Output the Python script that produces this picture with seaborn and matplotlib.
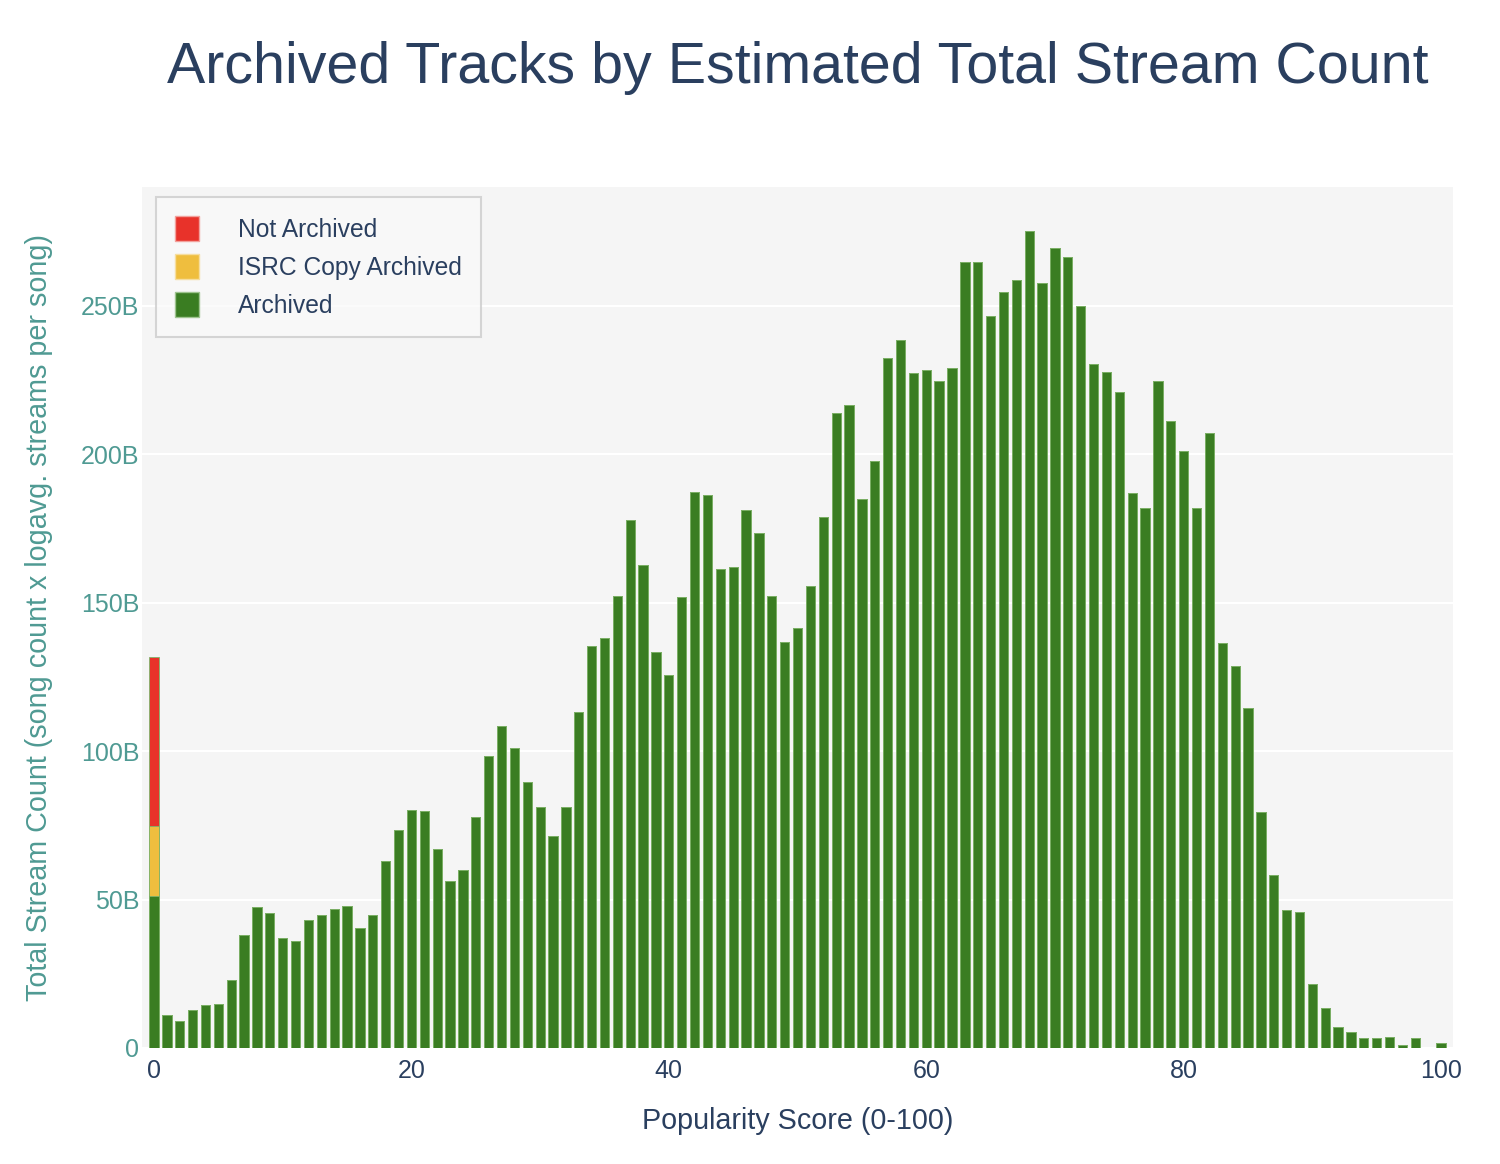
import numpy as np
import pandas as pd
import matplotlib
matplotlib.use('Agg')
import matplotlib.pyplot as plt
import seaborn as sns
from matplotlib.patches import Patch
from matplotlib.ticker import FuncFormatter

# popularity score 0..100
popularity = list(range(101))

# total stream count (billions) per popularity score
archived = [
    51.2, 11.2, 9.2, 12.8, 14.3, 14.8, 22.9, 38.0, 47.6, 45.4,
    37.0, 36.1, 43.1, 44.8, 46.9, 47.8, 40.4, 44.8, 63.1, 73.5,
    80.2, 79.7, 67.0, 56.3, 60.0, 77.8, 98.2, 108.3, 101.0, 89.6,
    81.1, 71.4, 81.2, 113.0, 135.3, 138.2, 152.3, 177.8, 162.8, 133.5,
    125.7, 151.8, 187.2, 186.4, 161.4, 161.9, 181.1, 173.6, 152.2, 136.6,
    141.3, 155.6, 179.0, 214.0, 216.6, 185.0, 197.6, 232.5, 238.6, 227.4,
    228.4, 224.7, 229.1, 264.9, 264.7, 246.4, 254.5, 258.7, 275.2, 257.8,
    269.4, 266.3, 249.8, 230.4, 227.6, 221.0, 186.9, 181.9, 224.7, 211.1,
    201.0, 181.8, 207.2, 136.3, 128.5, 114.4, 79.4, 58.1, 46.4, 45.7,
    21.7, 13.4, 7.1, 5.3, 3.5, 3.5, 3.7, 1.0, 3.2, 0.0,
    1.7,
]
isrc_copy = [23.6] + [0.0] * 100
not_archived = [56.9] + [0.0] * 100

df = pd.DataFrame({
    'popularity': popularity,
    'archived': archived,
    'isrc': isrc_copy,
    'not_archived': not_archived,
})
df['lvl2'] = df['archived'] + df['isrc']
df['lvl3'] = df['lvl2'] + df['not_archived']

green = '#3a7d22'
yellow = '#efbe3e'
red = '#e8322a'
text_col = '#2a3f5f'
teal = '#4f9a93'

sns.set_theme(style='white')
plt.rcParams['font.family'] = ['Liberation Sans', 'DejaVu Sans']

fig = plt.figure(figsize=(15, 11.64), dpi=100)
ax = fig.add_axes([0.0947, 0.0997, 0.874, 0.7396])
ax.set_facecolor('#f5f5f5')

# stacked look by drawing cumulative totals back to front
for col, c in [('lvl3', red), ('lvl2', yellow), ('archived', green)]:
    sns.barplot(data=df, x='popularity', y=col, native_scale=True, color=c,
                width=0.72, saturation=1, edgecolor='#7fb36b', linewidth=0.6,
                ax=ax, zorder=3)

ax.set_xlim(-0.93, 100.93)
ax.set_ylim(0, 290)
ax.set_yticks([0, 50, 100, 150, 200, 250])
ax.yaxis.set_major_formatter(FuncFormatter(lambda v, p: '0' if v == 0 else '%dB' % v))
ax.set_xticks([0, 20, 40, 60, 80, 100])
ax.grid(axis='y', color='white', linewidth=1.5, zorder=0)
ax.grid(axis='x', visible=False)
ax.set_axisbelow(True)
for s in ax.spines.values():
    s.set_visible(False)

ax.tick_params(axis='y', labelsize=18, labelcolor=teal, length=0, pad=2)
ax.tick_params(axis='x', labelsize=18, labelcolor=text_col, length=0, pad=8)

ax.set_xlabel('Popularity Score (0-100)', fontsize=20.7, color=text_col, labelpad=17)
ax.set_ylabel('Total Stream Count (song count x logavg. streams per song)',
              fontsize=20.7, color=teal, labelpad=20)

fig.text(0.532, 0.942, 'Archived Tracks by Estimated Total Stream Count',
         ha='center', va='center', fontsize=41.3, color=text_col)

handles = [Patch(facecolor=red, edgecolor='#f2a19c', label='Not Archived'),
           Patch(facecolor=yellow, edgecolor='#f6dea0', label='ISRC Copy Archived'),
           Patch(facecolor=green, edgecolor='#9ec48f', label='Archived')]
leg = ax.legend(handles=handles, loc='upper left', bbox_to_anchor=(0.0107, 0.988),
                fontsize=17.7, frameon=True, fancybox=False, handlelength=1.0,
                handleheight=1.2, handletextpad=1.6, labelspacing=0.5,
                borderpad=0.75, borderaxespad=0)
leg.get_frame().set_facecolor('#fafafa')
leg.get_frame().set_edgecolor('#cccccc')
leg.get_frame().set_linewidth(1.5)
for t in leg.get_texts():
    t.set_color(text_col)

fig.savefig('out.png', dpi=100, facecolor='white')
